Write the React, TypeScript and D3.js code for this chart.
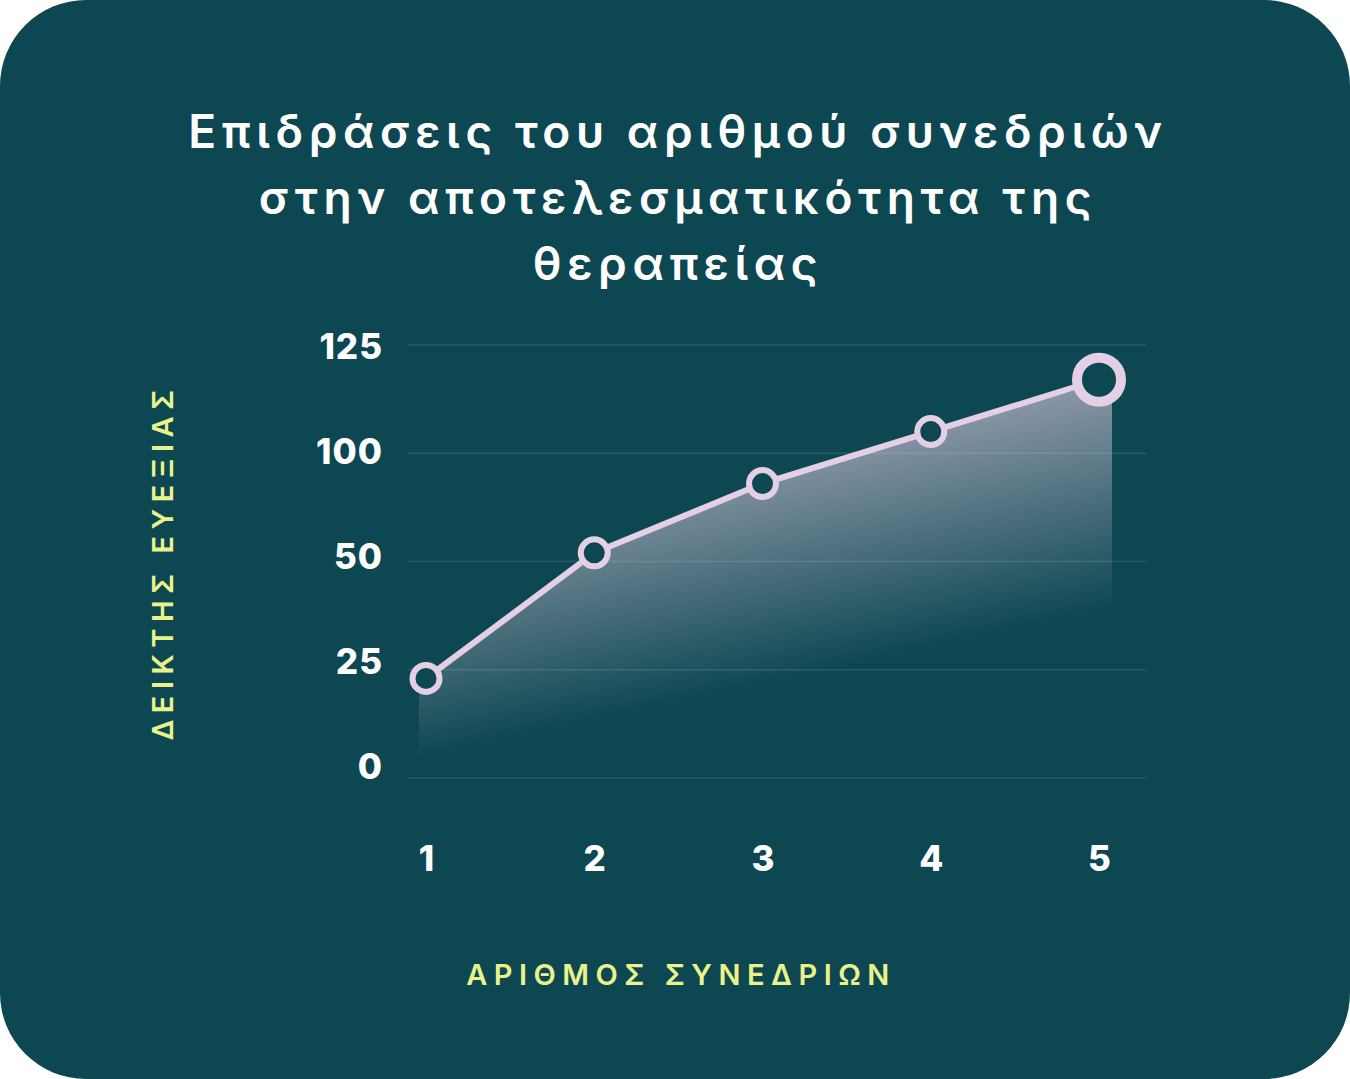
import { FC, useEffect, useRef } from "react";
import * as d3 from "d3";

const titleLines = [
  "Επιδράσεις του αριθμού συνεδριών",
  "στην αποτελεσματικότητα της",
  "θεραπείας",
];
const xTitle = "ΑΡΙΘΜΟΣ ΣΥΝΕΔΡΙΩΝ";
const yTitle = "ΔΕΙΚΤΗΣ ΕΥΕΞΙΑΣ";

const sessions = [1, 2, 3, 4, 5];
const wellbeing = [23, 52, 68, 80, 92];

const yTickValues = [0, 25, 50, 75, 100];
const yTickLabels = ["0", "25", "50", "100", "125"];

const BG = "#0c4752";
const LINE = "#e4cfe4";
const ACCENT = "#eaf28c";

const App: FC = () => {
  const ref = useRef<HTMLDivElement>(null);

  useEffect(() => {
    const width = 1350;
    const height = 1079;

    d3.select(ref.current).selectAll("*").remove();
    const svg = d3
      .select(ref.current)
      .append("svg")
      .attr("width", width)
      .attr("height", height)
      .style("display", "block");

    svg
      .append("rect")
      .attr("width", width)
      .attr("height", height)
      .attr("rx", 86)
      .attr("fill", BG);

    const defs = svg.append("defs");
    const grad = defs
      .append("linearGradient")
      .attr("id", "areaFade")
      .attr("gradientUnits", "userSpaceOnUse")
      .attr("x1", 128)
      .attr("y1", 586)
      .attr("x2", 177)
      .attr("y2", 813);
    grad.append("stop").attr("offset", 0).attr("stop-color", LINE).attr("stop-opacity", 0.6);
    grad.append("stop").attr("offset", 1).attr("stop-color", LINE).attr("stop-opacity", 0);

    // title
    svg
      .append("g")
      .selectAll("text")
      .data(titleLines)
      .join("text")
      .attr("x", width / 2 + 3)
      .attr("y", (_, i) => 148 + i * 66)
      .attr("text-anchor", "middle")
      .attr("fill", "#ffffff")
      .style("font-family", "Inter, sans-serif")
      .style("font-weight", 600)
      .style("font-size", "46px")
      .style("letter-spacing", "5.6px")
      .text((d) => d);

    const x = d3.scaleLinear().domain([1, 5]).range([426, 1099]);
    const y = d3.scaleLinear().domain([0, 100]).range([778, 345]);
    const yLabel = d3.scaleLinear().domain([0, 100]).range([766, 346]);

    // grid
    svg
      .append("g")
      .selectAll("line")
      .data(yTickValues)
      .join("line")
      .attr("x1", 408)
      .attr("x2", 1146)
      .attr("y1", (d) => y(d))
      .attr("y2", (d) => y(d))
      .attr("stroke", "#245c68")
      .attr("stroke-width", 1.5);

    const tickFont = (sel: d3.Selection<any, any, any, any>) =>
      sel
        .attr("fill", "#ffffff")
        .style("font-family", "Inter, sans-serif")
        .style("font-weight", 800)
        .style("font-size", "35px")
        .style("letter-spacing", "1px");

    // y tick labels
    svg
      .append("g")
      .selectAll("text")
      .data(yTickValues)
      .join("text")
      .attr("x", 383)
      .attr("y", (d) => yLabel(d))
      .attr("dy", "0.36em")
      .attr("text-anchor", "end")
      .call(tickFont)
      .text((_, i) => yTickLabels[i]);

    // x tick labels
    svg
      .append("g")
      .selectAll("text")
      .data(sessions)
      .join("text")
      .attr("x", (d) => x(d) + 1)
      .attr("y", 858)
      .attr("dy", "0.36em")
      .attr("text-anchor", "middle")
      .call(tickFont)
      .text((d) => d);

    const points = sessions.map((s, i) => ({ s, v: wellbeing[i] }));
    const last = points.length - 1;

    const area = d3
      .area<{ s: number; v: number }>()
      .x((d, i) => x(d.s) + (i === 0 ? -7 : i === last ? 13 : 0))
      .y0(y(0))
      .y1((d) => y(d.v));

    svg.append("path").attr("d", area(points)!).attr("fill", "url(#areaFade)");

    const line = d3
      .line<{ s: number; v: number }>()
      .x((d) => x(d.s))
      .y((d) => y(d.v));

    svg
      .append("path")
      .attr("d", line(points)!)
      .attr("fill", "none")
      .attr("stroke", LINE)
      .attr("stroke-width", 6)
      .attr("stroke-linejoin", "round");

    svg
      .append("g")
      .selectAll("circle")
      .data(points)
      .join("circle")
      .attr("cx", (d) => x(d.s))
      .attr("cy", (d) => y(d.v))
      .attr("r", (_, i) => (i === last ? 22 : 13.5))
      .attr("fill", BG)
      .attr("stroke", LINE)
      .attr("stroke-width", (_, i) => (i === last ? 10 : 6));

    const axisTitleFont = (sel: d3.Selection<any, any, any, any>) =>
      sel
        .attr("fill", ACCENT)
        .style("font-family", "Inter, sans-serif")
        .style("font-weight", 600)
        .style("font-size", "29px")
        .style("letter-spacing", "6.5px");

    // axis titles
    svg
      .append("text")
      .attr("x", 681)
      .attr("y", 975)
      .attr("dy", "0.36em")
      .attr("text-anchor", "middle")
      .call(axisTitleFont)
      .text(xTitle);

    svg
      .append("text")
      .attr("transform", "translate(163,562) rotate(-90)")
      .attr("dy", "0.36em")
      .attr("text-anchor", "middle")
      .call(axisTitleFont)
      .text(yTitle);
  }, []);

  return (
    <>
      <style>{`body{margin:0;}`}</style>
      <div ref={ref}></div>
    </>
  );
};

export default App;
